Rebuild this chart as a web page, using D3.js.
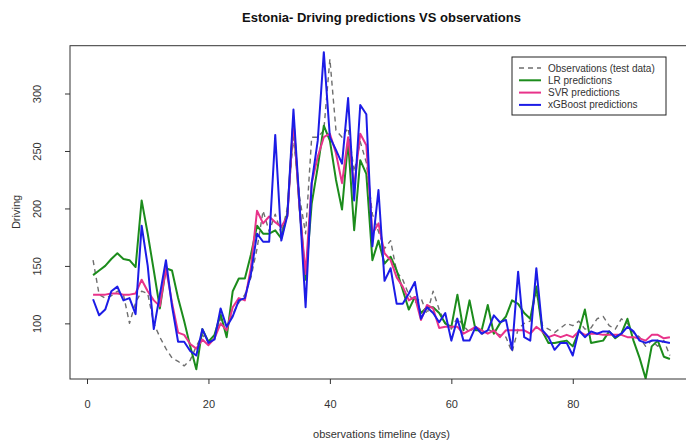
<!DOCTYPE html>
<html><head><meta charset="utf-8">
<script src="https://cdn.jsdelivr.net/npm/d3@7"></script>
<style>body{margin:0;background:#fff}svg{display:block}text{font-family:"Liberation Sans",Arial,sans-serif}</style>
</head><body>
<svg id="chart" width="686" height="444"></svg>
<script>
const days = d3.range(1, 97);
const observations = [155,125,122,124,128,125,100,118,128,126,100,88,78,70,67,63,68,80,90,84,88,104,98,108,118,125,140,165,198,180,195,178,200,262,210,178,262,262,268,330,268,262,270,232,258,240,195,180,165,172,145,138,125,118,122,108,128,112,100,95,105,98,92,98,90,95,92,90,88,75,95,100,102,128,98,95,92,96,100,98,102,95,96,104,106,98,95,104,100,92,88,80,85,80,85,72];
const lrPred = [142,146,150,156,161,156,155,149,207,178,146,113,148,146,122,102,80,60,95,84,90,108,88,128,139,139,160,185,178,178,181,174,196,277,201,138,204,236,272,259,225,199,259,181,242,230,155,172,152,158,146,129,112,123,109,114,114,109,100,97,125,94,120,94,94,116,91,100,106,120,117,109,104,132,93,83,83,84,85,80,93,112,83,84,85,93,87,91,104,85,70,52,80,85,71,69];
const svrPred = [125,125,125,126,126,125,125,126,138,128,120,115,148,118,92,90,82,78,86,81,87,100,94,114,122,120,149,198,187,193,188,184,193,277,201,143,222,245,262,265,248,222,262,219,265,255,178,187,161,155,140,132,120,123,103,116,113,96,97,97,97,91,94,97,94,91,94,88,94,94,94,94,91,97,93,88,90,88,90,88,93,90,91,91,90,90,90,90,88,88,87,85,90,90,87,88];
const xgbPred = [121,107,112,128,132,120,122,108,185,150,95,125,155,115,84,84,76,72,95,83,86,113,97,106,120,122,143,178,171,171,264,172,194,286,204,114,222,259,336,262,251,239,296,207,290,282,167,216,137,148,117,117,126,136,104,114,109,101,109,85,104,85,85,97,91,94,107,101,103,77,145,88,85,148,94,88,77,83,83,72,94,88,93,91,93,93,88,91,97,93,85,83,85,85,84,83];
const xTicks = [0,20,40,60,80];
const yTicks = [100,150,200,250,300];
const seriesNames = ["Observations (test data)","LR predictions","SVR predictions","xGBoost predictions"];
const seriesColors = ["#6e6e6e","#1c8c1c","#e8338a","#1c1ce6"];

const svg = d3.select("#chart");
const L = 70, R = 693, T = 45.7, B = 379;
const x = d3.scaleLinear().domain([-2.8, 99.8]).range([L, R]);
const y = d3.scaleLinear().domain([51.6, 341.6]).range([B, T]);

svg.append("defs").append("clipPath").attr("id","clip").append("rect")
  .attr("x",L).attr("y",T).attr("width",R-L).attr("height",B-T);

const line = d3.line().x((d,i)=>x(days[i])).y(d=>y(d));
const g = svg.append("g").attr("clip-path","url(#clip)");
const data = [observations, lrPred, svrPred, xgbPred];
data.forEach((s,k)=>{
  g.append("path").datum(s).attr("d", line).attr("fill","none")
   .attr("stroke", seriesColors[k]).attr("stroke-width", k===0?1.4:2)
   .attr("stroke-dasharray", k===0?"5,4":null)
   .attr("stroke-linejoin","round");
});

svg.append("rect").attr("x",L).attr("y",T).attr("width",R-L).attr("height",B-T)
  .attr("fill","none").attr("stroke","#333").attr("stroke-width",1);

const xAxis = svg.append("g").attr("transform",`translate(0,${B})`)
  .call(d3.axisBottom(x).tickValues(xTicks).tickSize(5).tickPadding(16).tickFormat(d3.format("d")));
xAxis.select(".domain").remove();
xAxis.selectAll("text").attr("font-size",11).attr("fill","#333");
xAxis.selectAll("line").attr("stroke","#333");

const yAxis = svg.append("g").attr("transform",`translate(${L},0)`)
  .call(d3.axisLeft(y).tickValues(yTicks).tickSize(5).tickFormat(d3.format("d")));
yAxis.select(".domain").remove();
yAxis.selectAll("line").attr("stroke","#333");
yAxis.selectAll("text").attr("font-size",11).attr("fill","#333")
  .attr("transform", d=>`rotate(-90, -33, ${0})`).attr("x",-33).attr("dy","0.35em")
  .attr("text-anchor","middle");
yAxis.selectAll(".tick text").each(function(){
  d3.select(this).attr("x",-33).attr("y",0).attr("dy","0.35em").attr("transform","rotate(-90,-33,0)");
});

svg.append("text").attr("x",(L+R)/2).attr("y",22).attr("text-anchor","middle")
  .attr("font-size",13).attr("font-weight","bold").attr("fill","#111")
  .text("Estonia- Driving predictions VS observations");
svg.append("text").attr("x",(L+R)/2).attr("y",438).attr("text-anchor","middle")
  .attr("font-size",11).attr("fill","#333").text("observations timeline (days)");
svg.append("text").attr("transform","translate(20,212) rotate(-90)").attr("text-anchor","middle")
  .attr("font-size",11).attr("fill","#333").text("Driving");

const lg = svg.append("g");
lg.append("rect").attr("x",512).attr("y",57).attr("width",154).attr("height",58)
  .attr("fill","#fff").attr("stroke","#222").attr("stroke-width",1);
seriesNames.forEach((n,k)=>{
  const yy = 68 + k*12.3;
  lg.append("line").attr("x1",519).attr("x2",541).attr("y1",yy).attr("y2",yy)
    .attr("stroke",seriesColors[k]).attr("stroke-width",k===0?1.4:2)
    .attr("stroke-dasharray",k===0?"5,4":null);
  lg.append("text").attr("x",548).attr("y",yy).attr("dy","0.35em")
    .attr("font-size",10).attr("fill","#333").text(n);
});
</script>
</body></html>
